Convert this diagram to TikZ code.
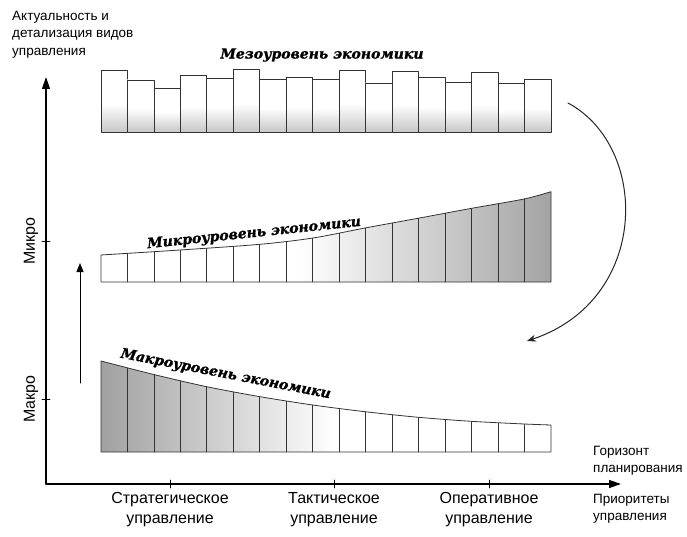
\documentclass[tikz,border=0pt]{standalone}
\usepackage{fontspec}
\setmainfont{Liberation Sans}
\newfontfamily\levelfont[BoldItalicFeatures={FakeBold=1.2}]{DejaVu Serif}
\usetikzlibrary{arrows.meta}
\pgfdeclareverticalshading{mesoshade}{100bp}{color(0bp)=(black!22); color(25bp)=(black!22); color(48bp)=(white); color(100bp)=(white)}
\pgfdeclarehorizontalshading{microshade}{100bp}{color(0bp)=(white); color(47bp)=(white); color(75bp)=(black!36); color(100bp)=(black!36)}
\pgfdeclarehorizontalshading{macroshade}{100bp}{color(0bp)=(black!37); color(25bp)=(black!37); color(51bp)=(white); color(100bp)=(white)}
\begin{document}
\begin{tikzpicture}[x=1pt, y=-1pt, line cap=round, line join=round,
  axis/.style={line width=1.3pt, -{Triangle[length=12pt,width=8pt]}},
  bar/.style={draw=black!80, line width=0.8pt},
  axislabel/.style={font=\fontsize{13.5}{17.5}\selectfont, align=left, inner sep=0pt},
  prioritylabel/.style={font=\fontsize{16}{20}\selectfont, align=center, inner sep=0pt},
  levellabel/.style={font=\levelfont\bfseries\itshape\fontsize{14}{16}\selectfont, inner sep=0pt}]
\def\xl{101} \def\xr{551} \def\bw{26.47}
\useasboundingbox (0,0) rectangle (687,537);
% axes
\coordinate (O) at (46,484);
\coordinate (ytip) at (46,77);
\coordinate (xtip) at (621,484);
\draw[axis] (O) -- (ytip);
\draw[axis] (O) -- (xtip);
\node[axislabel, anchor=north west] (yname) at (12,11) {Актуальность и\\детализация видов\\управления};
\node[axislabel, anchor=north west] (xname) at (593,446) {Горизонт\\планирования};
\node[axislabel, anchor=north west] (pname) at (593,494) {Приоритеты\\управления};
\foreach \y/\name/\lbl in {241/micro/Микро, 399/macro/Макро} {
  \draw[line width=0.8pt] (42,\y) -- (50,\y);
  \node[axislabel, rotate=90, font=\fontsize{16}{18}\selectfont] (\name) at (31,\y) {\lbl};
}
\foreach \x/\name/\lbl in {170/strat/Стратегическое, 334/tact/Тактическое, 489/oper/Оперативное} {
  \draw[line width=0.8pt] (\x,480) -- (\x,488);
  \node[prioritylabel] (\name) at (\x,510) {\lbl\\управление};
}
% mesolevel
\foreach \top [count=\i from 0] in {70.7,80,88.7,75.7,78.3,69.7,79.3,77,79.7,70.3,83,71.7,77.3,82.3,72,83.7,79.3}
  \shadedraw[bar, shading=mesoshade] ({\xl+\i*\bw},132) rectangle ({\xl+(\i+1)*\bw},\top);
\node[levellabel] (meso) at (322,55) {Мезоуровень экономики};
% microlevel
\def\micropath{(\xl,282) -- plot[smooth] coordinates {(\xl,255) (180,250) (260,244.3) (313,238) (365,228) (418,218.3) (471.7,208.3) (524,199) (\xr,191.7)} -- (\xr,282) -- cycle}
\shade[shading=microshade] \micropath;
\begin{scope}
\clip \micropath;
\foreach \i in {1,...,16}
  \draw[bar] ({\xl+\i*\bw},180) -- ++(0,110);
\end{scope}
\draw[bar] \micropath;
\node[levellabel, rotate=6, anchor=base] (micro lbl) at (254.5,237) {Микроуровень экономики};
% macrolevel
\def\macropath{(\xl,452) -- plot[smooth] coordinates {(\xl,361) (153,374.3) (206.7,386.7) (260,396.7) (312.7,405) (365,411.7) (418.3,417.3) (471,421.3) (524.3,424) (\xr,425)} -- (\xr,452) -- cycle}
\shade[shading=macroshade] \macropath;
\begin{scope}
\clip \macropath;
\foreach \i in {1,...,16}
  \draw[bar] ({\xl+\i*\bw},350) -- ++(0,110);
\end{scope}
\draw[bar] \macropath;
\node[levellabel, rotate=-11, anchor=base] (macro lbl) at (225,378) {Макроуровень экономики};
% transitions
\coordinate (up start) at (80,383);
\coordinate (up end) at (80,263);
\draw[line width=1pt, -{Triangle[length=9pt,width=7pt]}] (up start) -- (up end);
\coordinate (arc start) at (568,103);
\coordinate (arc end) at (527,341);
\draw[line width=1pt, black!85, -{Stealth[length=9pt,width=7pt]}] (arc start) .. controls (650,147) and (650,300) .. (arc end);
\end{tikzpicture}
\end{document}
